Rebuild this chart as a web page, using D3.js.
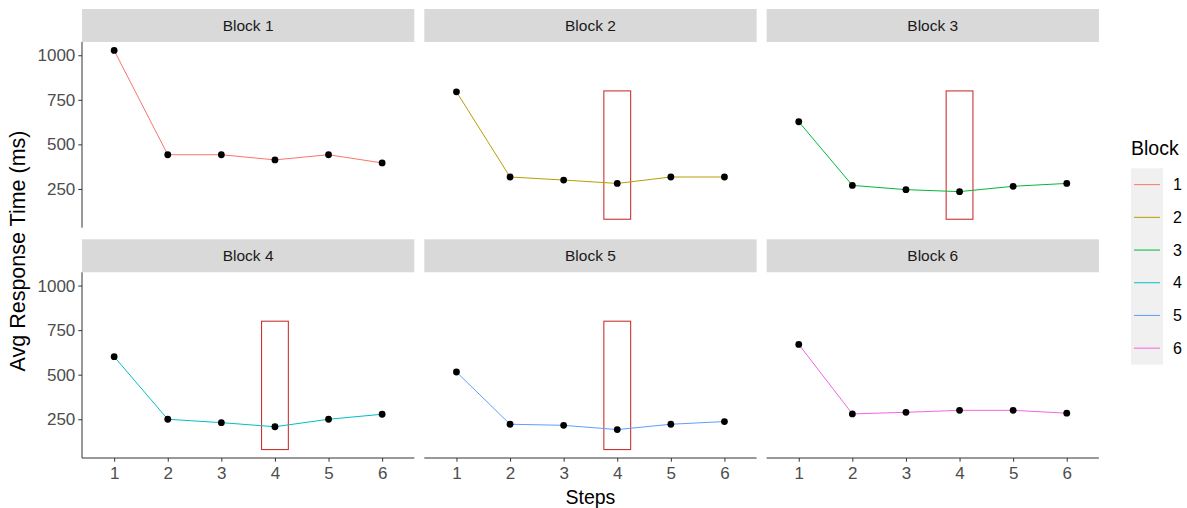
<!DOCTYPE html>
<html lang="en">
<head>
    <meta charset="UTF-8">
    <title>Avg Response Time by Block</title>
    <script src="https://d3js.org/d3.v7.min.js"></script>
    <style>
        body {
            margin: 0;
            padding: 0;
            background-color: white;
            font-family: 'Liberation Sans', Arial, sans-serif;
        }
        svg { display: block; }
    </style>
</head>
<body>
    <svg width="1187" height="508"></svg>

    <script>
        // data
        const steps = [1, 2, 3, 4, 5, 6];
        const blocks = ["1", "2", "3", "4", "5", "6"];
        const block1 = [1027, 442, 442, 413, 442, 396];
        const block2 = [795, 317, 300, 281, 317, 317];
        const block3 = [627, 270, 246, 235, 265, 281];
        const block4 = [601, 250, 231, 208, 250, 278];
        const block5 = [515, 222, 216, 192, 222, 237];
        const block6 = [670, 280, 289, 300, 300, 284];
        const yTicks = [250, 500, 750, 1000];
        const colors = ["#F8766D", "#B79F00", "#00BA38", "#00BFC4", "#619CFF", "#F564E3"];
        // highlight boxes around step 4
        const boxBlocks = ["2", "3", "4", "5"];
        const boxX = [3.75, 4.25];
        const boxY = [80, 800];

        const series = [block1, block2, block3, block4, block5, block6];

        const svg = d3.select("svg");
        const marginLeft = 82, marginTop = 9,
              panelW = 332.3, panelH = 185.7,
              stripH = 33, gapX = 10, gapY = 11.6;
        const font = "'Liberation Sans', Arial, sans-serif";

        const x = d3.scalePoint().domain(steps).range([0, panelW]).padding(0.6);
        // ggplot style 5% expansion
        const allY = series.flat().concat(boxY);
        const lo = d3.min(allY), hi = d3.max(allY), pad = (hi - lo) * 0.05;
        const y = d3.scaleLinear().domain([lo - pad, hi + pad]).range([panelH, 0]);

        const line = d3.line()
            .x((d, i) => x(steps[i]))
            .y(d => y(d));

        const color = d3.scaleOrdinal().domain(blocks).range(colors);

        blocks.forEach((b, k) => {
            const col = k % 3, row = Math.floor(k / 3);
            const px = marginLeft + col * (panelW + gapX);
            const py = marginTop + row * (stripH + panelH + gapY);

            const strip = svg.append("g").attr("transform", `translate(${px},${py})`);
            strip.append("rect")
                .attr("width", panelW).attr("height", stripH)
                .attr("fill", "#d9d9d9");
            strip.append("text")
                .attr("x", panelW / 2).attr("y", stripH / 2)
                .attr("dy", "0.35em")
                .attr("text-anchor", "middle")
                .attr("font-size", 15.5)
                .attr("fill", "#1a1a1a")
                .text("Block " + b);

            const g = svg.append("g").attr("transform", `translate(${px},${py + stripH})`);

            if (boxBlocks.includes(b)) {
                const xStep = x(2) - x(1);
                g.append("rect")
                    .attr("x", x(4) + (boxX[0] - 4) * xStep)
                    .attr("width", (boxX[1] - boxX[0]) * xStep)
                    .attr("y", y(boxY[1]))
                    .attr("height", y(boxY[0]) - y(boxY[1]))
                    .attr("fill", "none")
                    .attr("stroke", "#cc3333")
                    .attr("stroke-width", 1.1);
            }

            g.append("path")
                .datum(series[k])
                .attr("d", line)
                .attr("fill", "none")
                .attr("stroke", color(b))
                .attr("stroke-width", 1);

            g.selectAll(".dot")
                .data(series[k])
                .enter().append("circle")
                .attr("class", "dot")
                .attr("cx", (d, i) => x(steps[i]))
                .attr("cy", d => y(d))
                .attr("r", 3.4)
                .attr("fill", "black");

            if (col === 0) {
                const ay = g.append("g").call(d3.axisLeft(y).tickValues(yTicks)
                    .tickFormat(d3.format("d")).tickSize(3.7).tickPadding(3));
                ay.select(".domain").attr("stroke", "#333").attr("d", `M0,0V${panelH}`);
                ay.selectAll(".tick line").attr("stroke", "#333");
                ay.selectAll(".tick text").attr("font-size", 17).attr("fill", "#4d4d4d")
                    .attr("font-family", font);
            }
            if (row === 1) {
                const ax = g.append("g").attr("transform", `translate(0,${panelH})`)
                    .call(d3.axisBottom(x).tickSize(3.7).tickPadding(5));
                ax.select(".domain").attr("stroke", "#333").attr("d", `M0,0H${panelW}`);
                ax.selectAll(".tick line").attr("stroke", "#333");
                ax.selectAll(".tick text").attr("font-size", 17).attr("fill", "#4d4d4d")
                    .attr("font-family", font);
            }
        });

        // axis titles
        svg.append("text")
            .attr("x", marginLeft + (3 * panelW + 2 * gapX) / 2)
            .attr("y", 504)
            .attr("text-anchor", "middle")
            .attr("font-size", 19.5)
            .attr("fill", "black")
            .text("Steps");

        svg.append("text")
            .attr("transform", "translate(25,251) rotate(-90)")
            .attr("text-anchor", "middle")
            .attr("font-size", 21.5)
            .attr("fill", "black")
            .text("Avg Response Time (ms)");

        // legend
        const legend = svg.append("g").attr("transform", "translate(1131,0)");
        legend.append("text")
            .attr("x", 0).attr("y", 155)
            .attr("font-size", 19.5)
            .attr("fill", "black")
            .text("Block");
        const keyH = 32.7, keyTop = 168.3;
        legend.append("rect")
            .attr("x", 0).attr("y", keyTop)
            .attr("width", 32).attr("height", keyH * blocks.length)
            .attr("fill", "#f0f0f0");
        blocks.forEach((b, i) => {
            const cy = keyTop + keyH * (i + 0.5);
            legend.append("line")
                .attr("x1", 3).attr("x2", 29)
                .attr("y1", cy).attr("y2", cy)
                .attr("stroke", color(b))
                .attr("stroke-width", 1);
            legend.append("text")
                .attr("x", 42).attr("y", cy)
                .attr("dy", "0.35em")
                .attr("font-size", 16)
                .attr("fill", "black")
                .text(b);
        });
    </script>
</body>
</html>
